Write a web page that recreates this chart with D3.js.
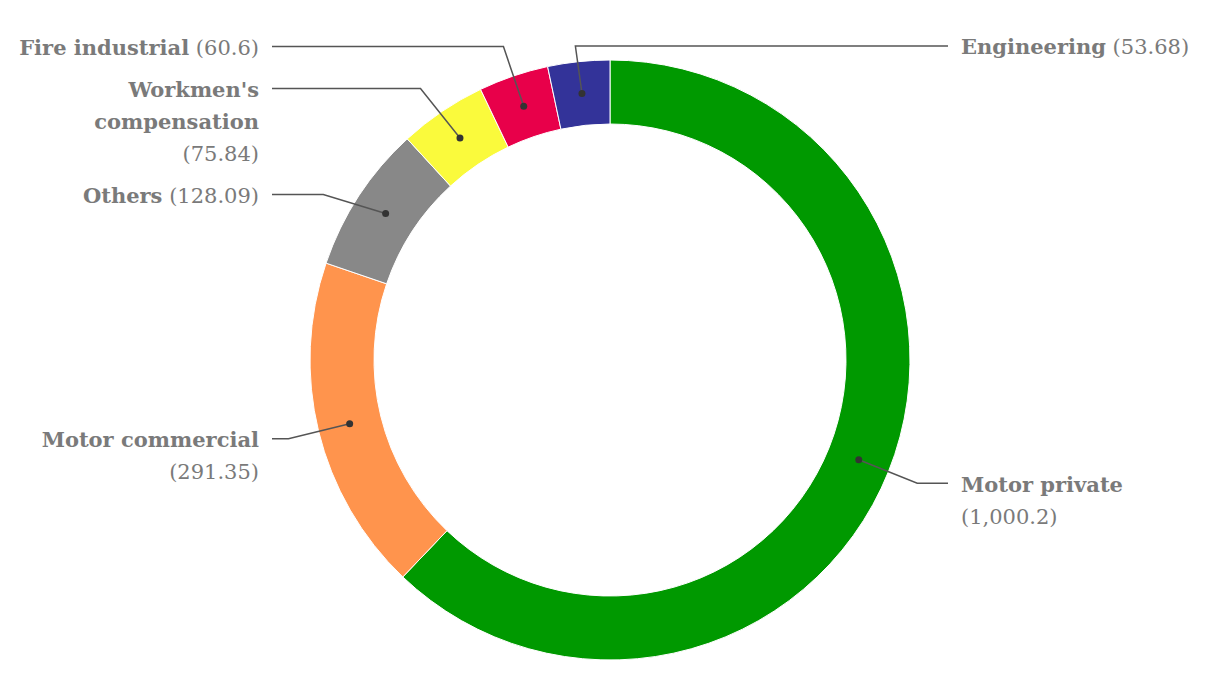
<!DOCTYPE html>
<html>
<head>
<meta charset="utf-8">
<script src="https://cdn.jsdelivr.net/npm/d3@7"></script>
<style>
  html, body { margin: 0; padding: 0; background: #fff; }
  svg { display: block; }
</style>
</head>
<body>
<svg id="chart" width="1220" height="700"></svg>
<script>
const categories = ["Motor private", "Motor commercial", "Others", "Workmen's compensation", "Fire industrial", "Engineering"];
const values = [1000.2, 291.35, 128.09, 75.84, 60.6, 53.68];
const colors = ["#009900", "#ff944d", "#888888", "#fafa3c", "#e8004a", "#333399"];

const W = 1220, H = 700;
const cx = 610, cy = 360;
const rOuter = 300, rInner = 236;
const rDot = (rOuter + rInner) / 2;
const rElbow = 331;
const fontSize = 21, lineH = 32, wrapW = 243, pad = 10, topY = 46;
const fontFam = "DejaVu Serif";
const textColor = "#7a7a7a";

const svg = d3.select("#chart");
const g = svg.append("g").attr("transform", `translate(${cx},${cy})`);

const data = categories.map((c, i) => ({ name: c, value: values[i], color: colors[i] }));
const pie = d3.pie().sort(null).value(d => d.value);
const arcs = pie(data);
const arc = d3.arc().innerRadius(rInner).outerRadius(rOuter);

g.selectAll("path.slice").data(arcs).join("path")
  .attr("class", "slice")
  .attr("d", arc)
  .attr("fill", d => d.data.color)
  .attr("stroke", "#fff")
  .attr("stroke-width", 1);

// text measuring
const ctx = document.createElement("canvas").getContext("2d");
function measure(t, bold) {
  ctx.font = `${bold ? "bold " : ""}${fontSize}px "${fontFam}"`;
  return ctx.measureText(t).width;
}
const fmt = d3.format(",");

function wrap(name, value) {
  const words = name.split(" ").map(w => ({ t: w, b: true }));
  words.push({ t: "(" + fmt(value) + ")", b: false });
  const lines = [];
  let cur = [], curW = 0;
  const spW = measure(" ", false);
  words.forEach(w => {
    const ww = measure(w.t, w.b);
    const add = cur.length ? spW + ww : ww;
    if (cur.length && curW + add > wrapW) {
      lines.push(cur); cur = [w]; curW = ww;
    } else { cur.push(w); curW += add; }
  });
  if (cur.length) lines.push(cur);
  return lines;
}

const labels = arcs.map(a => {
  const mid = (a.startAngle + a.endAngle) / 2;
  const side = (mid < Math.PI || mid > 2 * Math.PI - 0.2) ? "right" : "left";
  return {
    a, mid, side,
    dot: [rDot * Math.sin(mid), -rDot * Math.cos(mid)],
    ex: rElbow * Math.sin(mid),
    ey: -rElbow * Math.cos(mid),
    lines: wrap(a.data.name, a.data.value)
  };
});

["left", "right"].forEach(side => {
  const ls = labels.filter(l => l.side === side).sort((p, q) => p.ey - q.ey);
  let prevBottom = -Infinity;
  ls.forEach(l => {
    let y = l.ey;
    const minTop = topY - cy;
    if (y < minTop) y = minTop;
    if (y - lineH / 2 < prevBottom + pad) {
      y = prevBottom + pad + lineH / 2;
      if (Math.abs(y) < rElbow) {
        l.ex = Math.sign(l.ex) * Math.sqrt(rElbow * rElbow - y * y);
      }
    }
    l.ey = y;
    prevBottom = y + (l.lines.length - 1) * lineH + lineH / 2;
  });
});

const lineEnd = rOuter + 38, textX = rOuter + 51;

g.selectAll("polyline.leader").data(labels).join("polyline")
  .attr("class", "leader")
  .attr("fill", "none")
  .attr("stroke", "#555")
  .attr("stroke-width", 1.5)
  .attr("points", l => [l.dot, [l.ex, l.ey], [l.side === "right" ? lineEnd : -lineEnd, l.ey]].map(p => p.join(",")).join(" "));

g.selectAll("circle.dot").data(labels).join("circle")
  .attr("class", "dot")
  .attr("cx", l => l.dot[0]).attr("cy", l => l.dot[1])
  .attr("r", 3.5).attr("fill", "#333");

labels.forEach(l => {
  l.lines.forEach((line, i) => {
    const t = g.append("text")
      .attr("x", l.side === "right" ? textX : -textX)
      .attr("y", l.ey + i * lineH)
      .attr("dy", "0.4em")
      .attr("text-anchor", l.side === "right" ? "start" : "end")
      .attr("font-family", fontFam)
      .attr("font-size", fontSize)
      .attr("fill", textColor);
    line.forEach((w, j) => {
      t.append("tspan")
        .attr("font-weight", w.b ? "bold" : "normal")
        .text((j > 0 ? " " : "") + w.t);
    });
  });
});
</script>
</body>
</html>
